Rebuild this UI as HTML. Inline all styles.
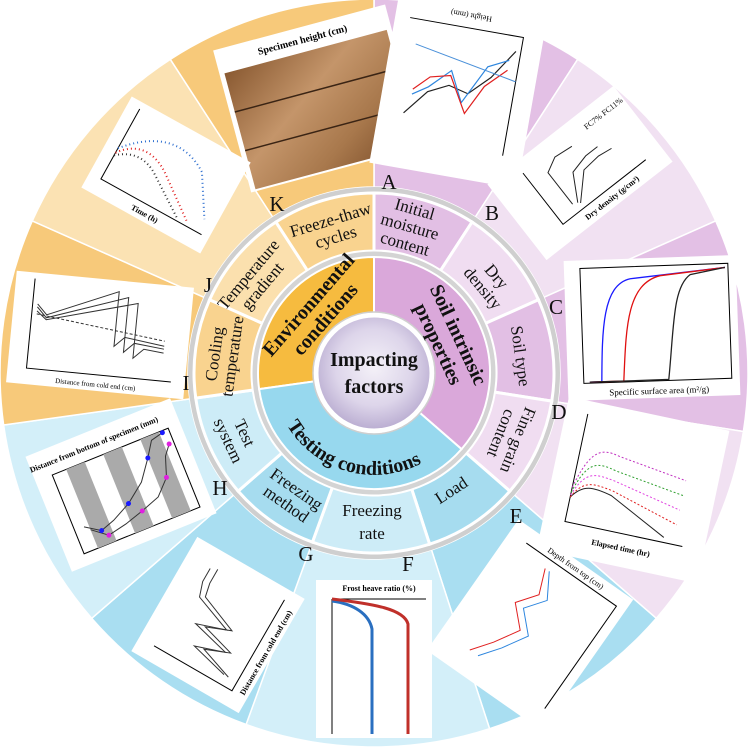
<!DOCTYPE html>
<html><head><meta charset="utf-8"><style>
html,body{margin:0;padding:0;background:#fff;}
svg{display:block;font-family:"Liberation Serif",serif;}
</style></head><body>
<svg id="s" width="749" height="751" viewBox="0 0 749 751" xmlns="http://www.w3.org/2000/svg">
<defs>
<radialGradient id="cg" cx="50%" cy="45%" r="55%">
<stop offset="0" stop-color="#f4f1f8"/><stop offset="0.6" stop-color="#ddd5ea"/><stop offset="1" stop-color="#b8abd0"/>
</radialGradient>
<linearGradient id="wood" x1="0" y1="0" x2="1" y2="1">
<stop offset="0" stop-color="#8a5a32"/><stop offset="0.4" stop-color="#c4956a"/><stop offset="0.7" stop-color="#a8784c"/><stop offset="1" stop-color="#7a4c28"/>
</linearGradient>
</defs>
<g id="sectors"></g>
<g id="charts">
<!-- K photo -->
<g transform="translate(318,98) rotate(-15)">
<rect x="-89" y="-73" width="178" height="147" fill="#fff"/>
<rect x="-84" y="-48" width="168" height="120" fill="url(#wood)"/>
<line x1="-84" y1="-8" x2="84" y2="-8" stroke="#3a2414" stroke-width="1.5"/>
<line x1="-84" y1="32" x2="84" y2="32" stroke="#3a2414" stroke-width="1.5"/>
<text x="0" y="-57" font-size="10" font-weight="bold" text-anchor="middle">Specimen height (cm)</text>
</g>
<!-- A -->
<g transform="translate(458,92) rotate(190)">
<rect x="-75" y="-85" width="150" height="170" fill="#fff"/>
<polyline points="-55,-55 -55,65 60,65" fill="none" stroke="#000"/>
<polyline points="-50,50 -30,20 -10,0 10,5 30,-5 50,-30" fill="none" stroke="#222" stroke-width="1.2"/>
<polyline points="-45,40 -25,30 -5,-10 10,20 30,0 45,-10" fill="none" stroke="#2e86de" stroke-width="1.2"/>
<polyline points="-45,30 -25,10 -10,-20 10,15 30,10 45,-5" fill="none" stroke="#e02020" stroke-width="1.2"/>
<line x1="-55" y1="20" x2="50" y2="40" stroke="#4a90d9"/>
<text x="0" y="80" font-size="8" text-anchor="middle">Height (mm)</text>
</g>
<!-- B -->
<g transform="translate(580,173) rotate(-38)">
<rect x="-80" y="-48" width="160" height="96" fill="#fff"/>
<polyline points="-45,-35 -45,30 60,30" fill="none" stroke="#000"/>
<polyline points="-25,20 -25,-20 -10,-28 10,-26" fill="none" stroke="#222"/>
<polyline points="-20,22 -5,-5 15,-10 30,-10" fill="none" stroke="#222"/>
<polyline points="-18,24 5,0 25,-2 40,0" fill="none" stroke="#222"/>
<text x="10" y="42" font-size="8" font-weight="bold" text-anchor="middle">Dry density (g/cm³)</text>
<text x="55" y="-30" font-size="8" text-anchor="middle">FC7% FC11%</text>
</g>
<!-- C -->
<g transform="translate(652,328) rotate(-2)">
<rect x="-86" y="-70" width="172" height="140" fill="#fff"/>
<rect x="-70" y="-62" width="148" height="115" fill="none" stroke="#000"/>
<path d="M-64,52 L-52,52 C-50,0 -48,-45 -20,-50 L75,-58" fill="none" stroke="#1a1aff" stroke-width="1.3"/>
<path d="M-64,52 L-30,52 C-26,0 -24,-45 10,-52 L75,-58" fill="none" stroke="#e01010" stroke-width="1.3"/>
<path d="M-64,52 L15,52 C22,0 22,-40 40,-52 L75,-58" fill="none" stroke="#222" stroke-width="1.3"/>
<text x="5" y="66" font-size="9" text-anchor="middle">Specific surface area (m²/g)</text>
</g>
<!-- D -->
<g transform="translate(633,490) rotate(12)">
<rect x="-82" y="-78" width="164" height="156" fill="#fff"/>
<polyline points="-60,-65 -60,45 60,45" fill="none" stroke="#000"/>
<path d="M-60,20 C-50,5 -40,5 -20,10 L40,40" fill="none" stroke="#222"/>
<path d="M-60,10 C-50,-30 -40,-35 -20,-30 L50,-20" fill="none" stroke="#c030c0" stroke-dasharray="2 2"/>
<path d="M-60,15 C-50,-20 -40,-20 -20,-15 L50,-5" fill="none" stroke="#30a030" stroke-dasharray="2 2"/>
<path d="M-60,18 C-50,-10 -40,-8 -20,-5 L50,10" fill="none" stroke="#e040e0" stroke-dasharray="2 2"/>
<path d="M-60,20 C-50,0 -40,2 -20,5 L50,25" fill="none" stroke="#e02020" stroke-dasharray="2 2"/>
<text x="0" y="62" font-size="8" font-weight="bold" text-anchor="middle">Elapsed time (hr)</text>
</g>
<!-- E -->
<g transform="translate(530,625) rotate(35)">
<rect x="-70" y="-80" width="140" height="160" fill="#fff"/>
<polyline points="-50,-65 60,-65 60,60" fill="none" stroke="#000"/>
<polyline points="-20,-55 -10,-30 -25,-10 -5,10 -20,35 -35,55" fill="none" stroke="#e02020"/>
<polyline points="-15,-55 0,-30 -15,-10 5,10 -10,35 -25,55" fill="none" stroke="#2e86de"/>
<text x="5" y="-70" font-size="8" text-anchor="middle">Depth from top (cm)</text>
</g>
<!-- F -->
<g transform="translate(374,659)">
<rect x="-58" y="-79" width="116" height="158" fill="#fff"/>
<polyline points="-42,-60 52,-60" fill="none" stroke="#000"/>
<line x1="-42" y1="-60" x2="-42" y2="75" stroke="#000"/>
<path d="M-42,-58 C-20,-55 -5,-45 -2,-30 L-2,75" fill="none" stroke="#2a6fc0" stroke-width="3"/>
<path d="M-42,-60 C0,-55 30,-50 34,-35 L34,75" fill="none" stroke="#c0302a" stroke-width="3"/>
<text x="5" y="-68" font-size="8" font-weight="bold" text-anchor="middle">Frost heave ratio (%)</text>
</g>
<!-- G -->
<g transform="translate(218,625) rotate(-60)">
<rect x="-66" y="-62" width="132" height="124" fill="#fff"/>
<polyline points="-50,-45 -50,45 55,45" fill="none" stroke="#000"/>
<polyline points="-40,30 -30,-10 -20,20 -10,-20 0,10 15,-30 30,-35 45,-35" fill="none" stroke="#333"/>
<polyline points="-40,35 -28,0 -18,25 -8,-10 2,15 18,-25 32,-28 48,-28" fill="none" stroke="#333"/>
<text x="0" y="58" font-size="8" font-weight="bold" text-anchor="middle">Distance from cold end (cm)</text>
</g>
<!-- H -->
<g transform="translate(121,485) rotate(-22)">
<rect x="-78" y="-62" width="156" height="124" fill="#fff"/>
<rect x="-60" y="-35" width="125" height="85" fill="#fff" stroke="#000"/>
<rect x="-45" y="-35" width="20" height="85" fill="#aaa"/>
<rect x="-5" y="-35" width="20" height="85" fill="#aaa"/>
<rect x="35" y="-35" width="20" height="85" fill="#aaa"/>
<polyline points="-50,25 -35,35 -20,30 0,20 20,5 35,-15 45,-30 58,-33" fill="none" stroke="#333"/>
<polyline points="-45,30 -30,42 -10,38 10,32 30,25 45,10 52,-10 60,-20" fill="none" stroke="#333"/>
<g fill="#1a1aff"><circle cx="-35" cy="35" r="2.5"/><circle cx="0" cy="20" r="2.5"/><circle cx="35" cy="-15" r="2.5"/><circle cx="58" cy="-33" r="2.5"/></g>
<g fill="#e020e0"><circle cx="-30" cy="42" r="2.5"/><circle cx="10" cy="32" r="2.5"/><circle cx="45" cy="10" r="2.5"/><circle cx="60" cy="-20" r="2.5"/></g>
<text x="-10" y="-45" font-size="8" font-weight="bold" text-anchor="middle">Distance from bottom of specimen (mm)</text>
</g>
<!-- I -->
<g transform="translate(100,335) rotate(5.5)">
<rect x="-89" y="-56" width="178" height="112" fill="#fff"/>
<polyline points="-70,-50 -70,40 75,40" fill="none" stroke="#000"/>
<polyline points="-65,-25 -55,-15 15,-45 15,10 25,0 65,5" fill="none" stroke="#333"/>
<polyline points="-65,-22 -55,-12 25,-40 25,15 35,5 65,8" fill="none" stroke="#333"/>
<polyline points="-65,-18 -55,-10 35,-35 35,20 45,10 65,12" fill="none" stroke="#333"/>
<line x1="-65" y1="-15" x2="65" y2="0" stroke="#333" stroke-dasharray="3 2"/>
<text x="0" y="52" font-size="7" text-anchor="middle">Distance from cold end (cm)</text>
</g>
<!-- J -->
<g transform="translate(166,175) rotate(29)">
<rect x="-68" y="-52" width="136" height="104" fill="#fff"/>
<polyline points="-55,-45 -55,35 60,35" fill="none" stroke="#000"/>
<path d="M-55,0 C-30,-30 0,-40 30,-20 L55,20" fill="none" stroke="#2e6fd0" stroke-dasharray="1 3" stroke-width="2"/>
<path d="M-55,5 C-40,-15 -20,-15 0,0 L40,30" fill="none" stroke="#e02020" stroke-dasharray="1 3" stroke-width="2"/>
<path d="M-55,8 C-40,-5 -25,-5 -10,5 L30,32" fill="none" stroke="#333" stroke-dasharray="1 3" stroke-width="2"/>
<text x="0" y="47" font-size="8" font-weight="bold" text-anchor="middle">Time (h)</text>
</g>
</g>
<g id="inner"></g>
<g font-family="Liberation Serif, serif" font-size="21" fill="#111" text-anchor="middle">
<text x="389" y="189">A</text><text x="492" y="220">B</text><text x="556" y="314">C</text>
<text x="559" y="419">D</text><text x="516" y="523">E</text><text x="408" y="571">F</text>
<text x="306" y="561">G</text><text x="220" y="495">H</text><text x="186" y="390">I</text>
<text x="208" y="292">J</text><text x="277" y="211">K</text>
</g>
<g font-size="17" fill="#111" text-anchor="middle" font-family="Liberation Serif, serif">
<text transform="translate(410,226) rotate(16)"><tspan x="0" y="-12">Initial</tspan><tspan x="0" y="6">moisture</tspan><tspan x="0" y="24">content</tspan></text>
<text transform="translate(490,282) rotate(50)"><tspan x="0" y="-3">Dry</tspan><tspan x="0" y="15">density</tspan></text>
<text transform="translate(521,356) rotate(82)"><tspan x="0" y="6">Soil type</tspan></text>
<text transform="translate(510,437) rotate(112)"><tspan x="0" y="-3">Fine grain</tspan><tspan x="0" y="15">content</tspan></text>
<text transform="translate(451,490) rotate(-33)"><tspan x="0" y="6">Load</tspan></text>
<text transform="translate(372,520) rotate(0)"><tspan x="0" y="-4">Freezing</tspan><tspan x="0" y="19">rate</tspan></text>
<text transform="translate(291,497) rotate(35)"><tspan x="0" y="-4">Freezing</tspan><tspan x="0" y="14">method</tspan></text>
<text transform="translate(236,437) rotate(65)"><tspan x="0" y="-4">Test</tspan><tspan x="0" y="14">system</tspan></text>
<text transform="translate(223,355) rotate(-82)"><tspan x="0" y="-3">Cooling</tspan><tspan x="0" y="15">temperature</tspan></text>
<text transform="translate(255,280) rotate(-50)"><tspan x="0" y="-3">Temperature</tspan><tspan x="0" y="15">gradient</tspan></text>
<text transform="translate(333,228) rotate(-17)"><tspan x="0" y="-3">Freeze-thaw</tspan><tspan x="0" y="15">cycles</tspan></text>
</g>
<g font-size="20" font-weight="bold" fill="#111" text-anchor="middle" font-family="Liberation Serif, serif">
<text transform="translate(318,313) rotate(-49)"><tspan x="0" y="-6">Environmental</tspan><tspan x="0" y="16">conditions</tspan></text>
<text transform="translate(447,340) rotate(65)"><tspan x="0" y="-6">Soil intrinsic</tspan><tspan x="0" y="16">properties</tspan></text>
<path id="tp" d="M 286.7 425.0 A 102 102 0 0 0 421.9 463.1" fill="none"/>
<text><textPath href="#tp" startOffset="50%">Testing conditions</textPath></text>
<text x="374" y="366">Impacting</text><text x="374" y="393">factors</text>
</g>
</svg>
<script>
(function(){
var NS="http://www.w3.org/2000/svg",cx=374,cy=373;
function pt(r,a){a=a*Math.PI/180;return (cx+r*Math.cos(a)).toFixed(2)+" "+(cy+r*Math.sin(a)).toFixed(2);}
function sec(r1,r2,a1,a2){var l=(a2-a1)>180?1:0;return "M"+pt(r2,a1)+" A"+r2+" "+r2+" 0 "+l+" 1 "+pt(r2,a2)+" L"+pt(r1,a2)+" A"+r1+" "+r1+" 0 "+l+" 0 "+pt(r1,a1)+"Z";}
function add(g,d,f,s,w){var p=document.createElementNS(NS,"path");p.setAttribute("d",d);p.setAttribute("fill",f);if(s){p.setAttribute("stroke",s);p.setAttribute("stroke-width",w);}document.getElementById(g).appendChild(p);}
function circ(g,r,f,s,w){var c=document.createElementNS(NS,"circle");c.setAttribute("cx",cx);c.setAttribute("cy",cy);c.setAttribute("r",r);c.setAttribute("fill",f);if(s){c.setAttribute("stroke",s);c.setAttribute("stroke-width",w);}document.getElementById(g).appendChild(c);}
var mid=[[-90,-57],[-57,-24],[-24,9],[9,41],[41,72],[72,110],[110,139],[139,172],[172,204],[204,237],[237,270]];
var outerC=["#e3c0e5","#f1e1f2","#e3c0e5","#f1e1f2","#a9def1","#d3eff9","#a9def1","#d3eff9","#f7c97a","#fbe2b3","#f7c97a"];
var midC=["#e2bfe4","#f0ddf1","#e2bfe4","#f0ddf1","#a6dcef","#cdecf7","#a6dcef","#cdecf7","#f9d38f","#fbe0ae","#f9d38f"];
for(var i=0;i<11;i++){add("sectors",sec(186,374,mid[i][0],mid[i][1]),outerC[i],"#fff",1.5);}
circ("inner",183,"none","#cfcfcf",6);
for(var i=0;i<11;i++){add("inner",sec(122,180,mid[i][0],mid[i][1]),midC[i],"#fff",3);}
circ("inner",119,"none","#d4d4d4",5);
add("inner",sec(58,116,172,270),"#f6bb3f","#fff",2);
add("inner",sec(58,116,-90,41),"#daa8da","#fff",2);
add("inner",sec(58,116,41,172),"#97d8ee","#fff",2);
circ("inner",58,"url(#cg)","#fff",5);
circ("inner",61,"none","#cfcfcf",1.5);
})();
</script>
</body></html>
